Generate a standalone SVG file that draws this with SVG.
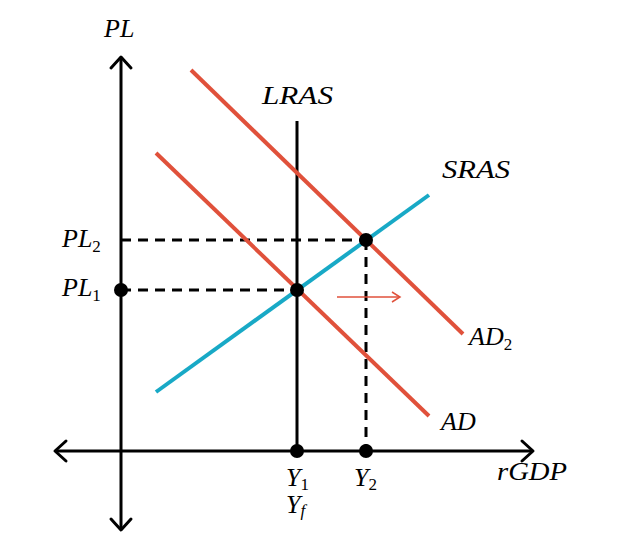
<svg xmlns="http://www.w3.org/2000/svg" width="639" height="552" viewBox="0 0 639 552">
<style>
.ax{stroke:#000;stroke-width:3;fill:none}
.ah{stroke:#000;stroke-width:3;fill:none;stroke-linecap:round;stroke-linejoin:round}
.dash{stroke:#000;stroke-width:3;stroke-dasharray:10,7;fill:none}
.red{stroke:#e0513b;stroke-width:4;fill:none}
.cyan{stroke:#18a9c6;stroke-width:4;fill:none}
.dot{fill:#000}
text{font-family:"Liberation Serif","DejaVu Serif",serif;font-size:26px;font-style:italic;fill:#000}
.sub{font-style:normal;font-size:17px}
.subi{font-style:italic;font-size:17px}
</style>
<rect width="639" height="552" fill="#fff"/>
<g id="axes">
<line class="ax" x1="121" y1="58" x2="121" y2="529"/>
<polyline class="ah" points="111,68 121,57 131,68"/>
<polyline class="ah" points="111,519 121,530 131,519"/>
<line class="ax" x1="56" y1="451" x2="532" y2="451"/>
<polyline class="ah" points="66,441 55,451 66,461"/>
<polyline class="ah" points="522,441 533,451 522,461"/>
<text x="104" y="37">PL</text>
<text x="497" y="480" textLength="70" lengthAdjust="spacingAndGlyphs">rGDP</text>
</g>
<g id="connectors">
<line class="dash" x1="121" y1="240" x2="366" y2="240"/>
<line class="dash" x1="121" y1="290" x2="297" y2="290"/>
<line class="dash" x1="366" y1="240" x2="366" y2="451"/>
<line x1="337" y1="297" x2="400" y2="297" stroke="#e0513b" stroke-width="1.5"/>
<polyline points="392,292 400,297 392,302" stroke="#e0513b" stroke-width="1.5" fill="none"/>
</g>
<g id="lras">
<line x1="297" y1="121" x2="297" y2="451" stroke="#000" stroke-width="3"/>
<text x="262" y="104" textLength="71" lengthAdjust="spacingAndGlyphs">LRAS</text>
</g>
<g id="ad">
<line class="red" x1="156" y1="153" x2="429" y2="416"/>
<text x="441" y="430">AD</text>
</g>
<g id="ad2">
<line class="red" x1="191" y1="70" x2="463" y2="334"/>
<text x="469" y="345">AD<tspan class="sub" dy="5">2</tspan></text>
</g>
<g id="sras">
<line class="cyan" x1="156" y1="392" x2="429" y2="195"/>
<text x="442" y="178" textLength="68" lengthAdjust="spacingAndGlyphs">SRAS</text>
</g>
<g id="points">
<circle class="dot" cx="121" cy="290" r="7"/>
<circle class="dot" cx="297" cy="290" r="7"/>
<circle class="dot" cx="366" cy="240" r="7"/>
<circle class="dot" cx="297" cy="451" r="7"/>
<circle class="dot" cx="366" cy="451" r="7"/>
</g>
<g id="labels">
<text x="62" y="247">PL<tspan class="sub" dy="5">2</tspan></text>
<text x="62" y="296">PL<tspan class="sub" dy="5">1</tspan></text>
<text x="286" y="486">Y<tspan class="sub" dy="4">1</tspan></text>
<text x="286" y="513">Y<tspan class="subi" dy="3">f</tspan></text>
<text x="354" y="486">Y<tspan class="sub" dy="4">2</tspan></text>
</g>
</svg>
